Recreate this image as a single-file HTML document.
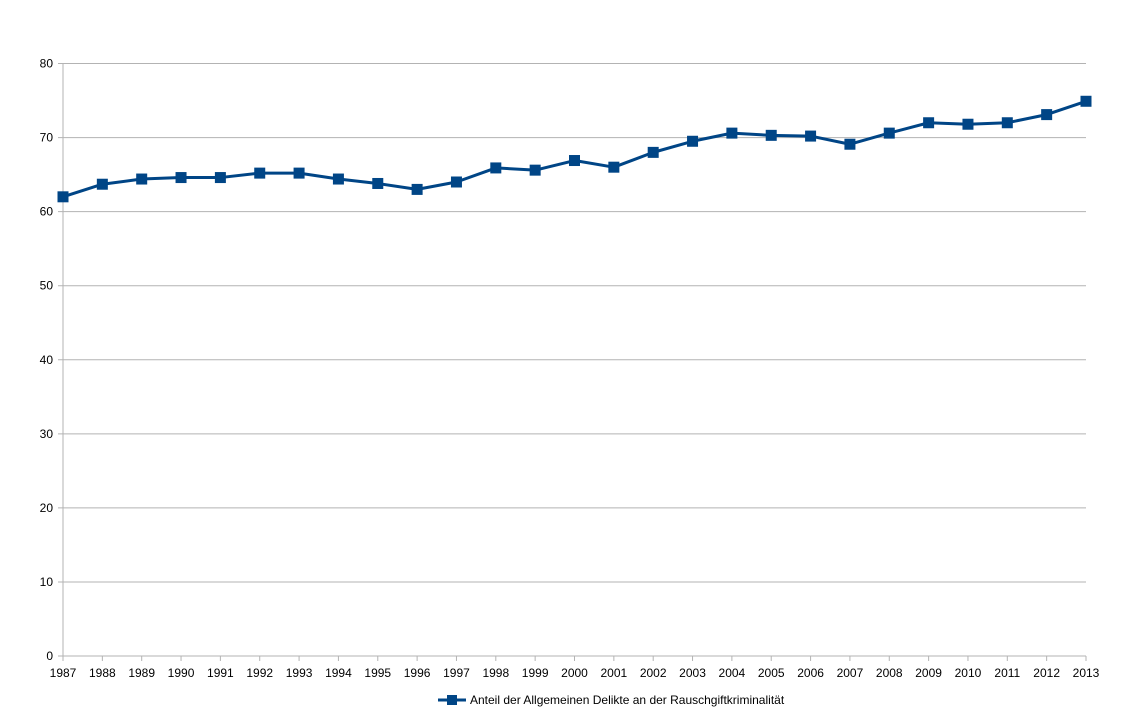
<!DOCTYPE html>
<html><head><meta charset="utf-8"><style>
html,body{margin:0;padding:0;background:#fff;}
svg text{font-family:"Liberation Sans",sans-serif;font-size:12px;fill:#000;}
</style></head><body>
<svg id="chart" width="1146" height="718" xmlns="http://www.w3.org/2000/svg">
<g id="grid"></g>
<g id="yticks"></g>
<g id="xticks"></g>
<g id="series"></g>
<g>
<line x1="438" y1="700" x2="466" y2="700" stroke="#004586" stroke-width="3"/>
<rect x="447" y="695" width="10" height="10" fill="#004586"/>
<text x="470" y="704">Anteil der Allgemeinen Delikte an der Rauschgiftkriminalität</text>
</g>
</svg>
<script>
const years = [1987,1988,1989,1990,1991,1992,1993,1994,1995,1996,1997,1998,1999,2000,2001,2002,2003,2004,2005,2006,2007,2008,2009,2010,2011,2012,2013];
const values = [62.0,63.7,64.4,64.6,64.6,65.2,65.2,64.4,63.8,63.0,64.0,65.9,65.6,66.9,66.0,68.0,69.5,70.6,70.3,70.2,69.1,70.6,72.0,71.8,72.0,73.1,74.9];
const yTicks = [0,10,20,30,40,50,60,70,80];
const NS="http://www.w3.org/2000/svg";
const L=63,R=1086,T=63.5,B=656,yMax=80;
const xS=i=>L+i*(R-L)/(years.length-1);
const yS=v=>B-v/yMax*(B-T);
function mk(tag,attrs,parent){const e=document.createElementNS(NS,tag);for(const k in attrs)e.setAttribute(k,attrs[k]);parent.appendChild(e);return e;}
const grid=document.getElementById('grid'),yg=document.getElementById('yticks'),xg=document.getElementById('xticks'),sg=document.getElementById('series');
yTicks.forEach(t=>{
  const y=yS(t);
  const gl=mk('line',{x1:58,x2:R,y1:y,y2:y,stroke:'#b3b3b3','stroke-width':1},grid);
  
  
  const tx=mk('text',{x:53,y:y+4,'text-anchor':'end'},yg);
  tx.textContent=t;
  
  
});
mk('line',{x1:L,x2:L,y1:T,y2:B+5,stroke:'#b3b3b3','stroke-width':1},grid);
years.forEach((yr,i)=>{
  const x=xS(i);
  const tk=mk('line',{x1:x,x2:x,y1:B,y2:B+5,stroke:'#b3b3b3','stroke-width':1},xg);
  
  
  const tx=mk('text',{x:x,y:B+21,'text-anchor':'middle'},xg);
  tx.textContent=yr;
  
  
});
const pts=values.map((v,i)=>xS(i)+','+yS(v)).join(' ');
const pl=mk('polyline',{points:pts,fill:'none',stroke:'#004586','stroke-width':3,'stroke-linejoin':'round'},sg);


values.forEach((v,i)=>{
  const r=mk('rect',{x:xS(i)-5.5,y:yS(v)-5.5,width:11,height:11,fill:'#004586'},sg);
  
  
});
</script>
</body></html>
